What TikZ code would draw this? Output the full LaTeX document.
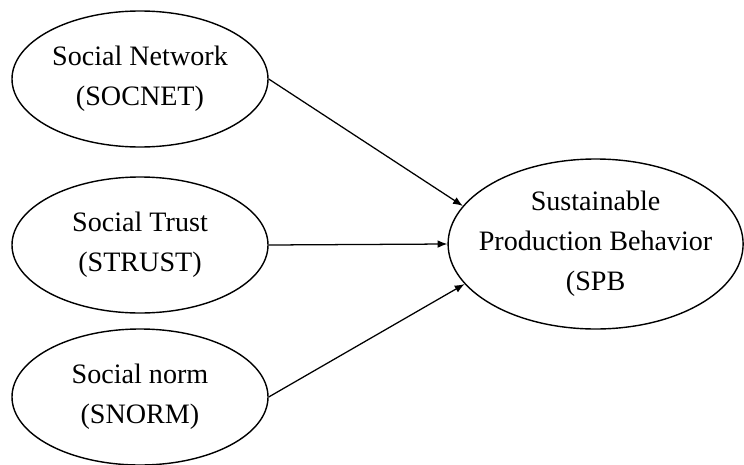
\documentclass[tikz,border=0pt]{standalone}
\usepackage{fontspec}
\setmainfont{Liberation Serif}
\usetikzlibrary{arrows.meta,shapes,positioning}

\tikzset{
  factor/.style={draw,ellipse,line width=1pt,inner sep=0pt,align=center,
    minimum width=6.4cm,minimum height=3.4cm,font=\fontsize{20}{28.5}\selectfont},
  outcome/.style={factor,inner xsep=-9pt,minimum width=7.375cm,minimum height=4.25cm}
}

\begin{document}
\begin{tikzpicture}[->,>={Latex[length=7pt,width=5.5pt]},node distance=1cm,line width=0.9pt]
        \useasboundingbox (-3.5,1.975) rectangle (15.1,-9.625);
        \node[factor] (soc)                              {Social Network\\(SOCNET)};
        \node[factor] (str) [below of=soc,yshift=-3.15cm] {Social Trust\\(STRUST)};
        \node[factor] (snm) [below of=str,yshift=-2.8cm]  {Social norm\\(SNORM)};
        \node[outcome] (spb) [right of=str,xshift=10.39cm,yshift=0.025cm] {Sustainable\\Production Behavior\\(SPB};

        \draw (soc.east) -- (spb.164);
        \draw (str.east) -- (spb.west);
        \draw (snm.east) -- (spb.197);
    \end{tikzpicture}
\end{document}
